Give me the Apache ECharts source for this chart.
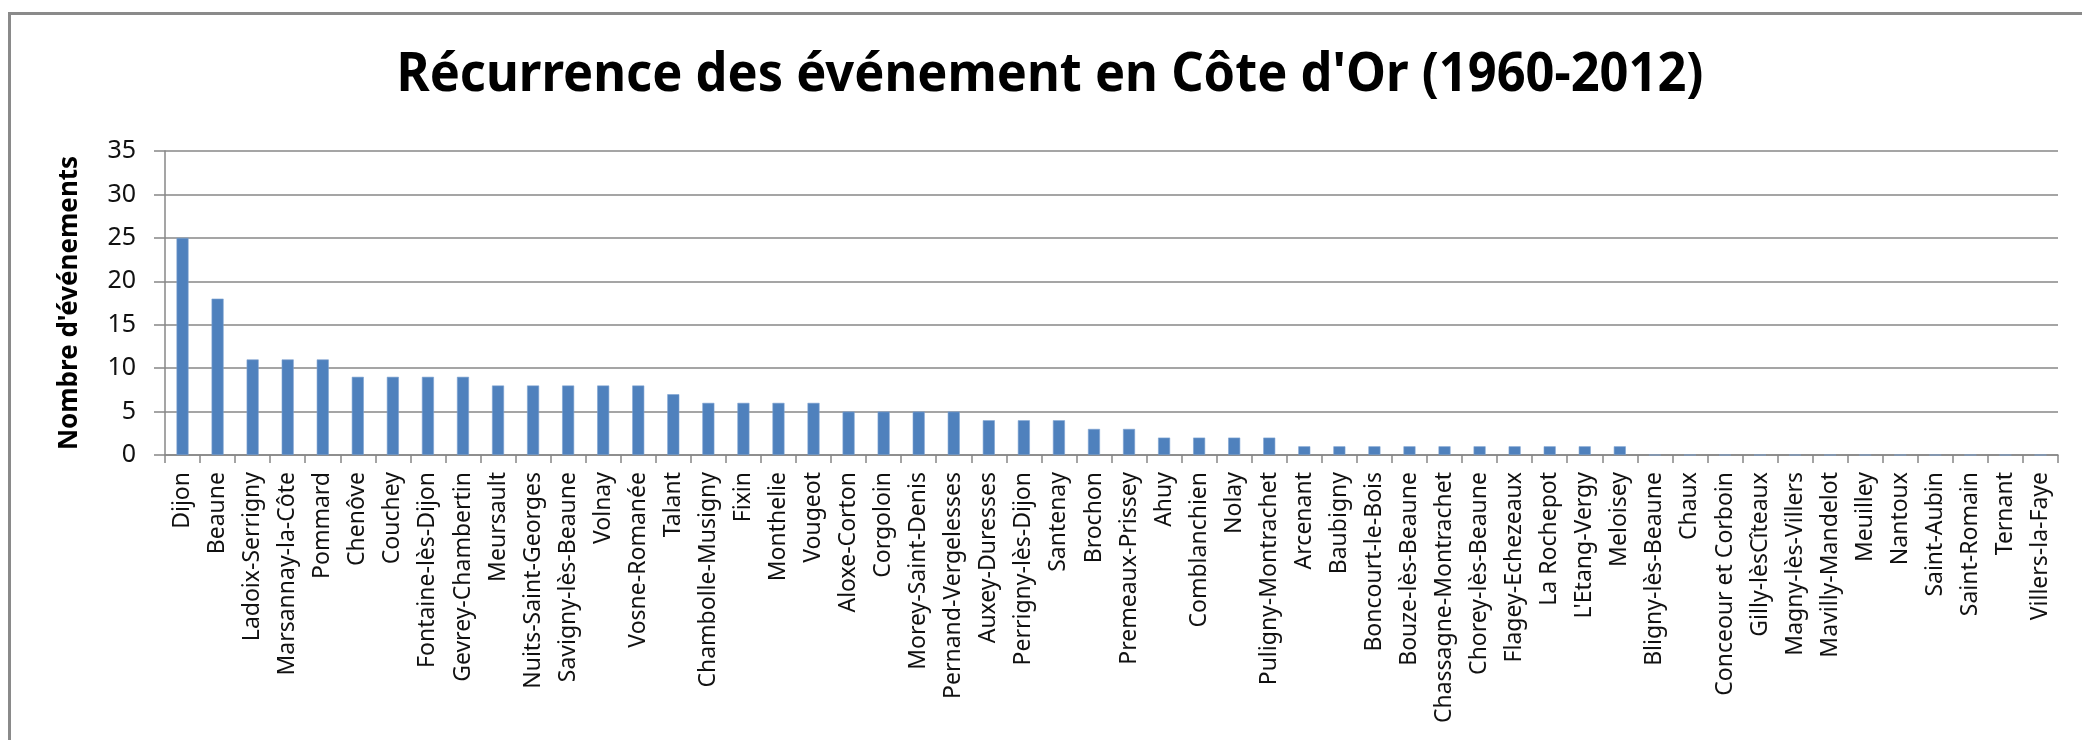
<!DOCTYPE html>
<html>
<head>
<meta charset="utf-8">
<script src="https://cdn.jsdelivr.net/npm/echarts@6/dist/echarts.min.js"></script>
<style>
html,body{margin:0;padding:0;background:#fff;}
#c{width:2082px;height:740px;}
</style>
</head>
<body>
<div id="c"></div>
<script>
const titleText = "Récurrence des événement en Côte d'Or (1960-2012)";
const yAxisName = "Nombre d'événements";

const communes = [
  "Dijon", "Beaune", "Ladoix-Serrigny", "Marsannay-la-Côte", "Pommard",
  "Chenôve", "Couchey", "Fontaine-lès-Dijon", "Gevrey-Chambertin", "Meursault",
  "Nuits-Saint-Georges", "Savigny-lès-Beaune", "Volnay", "Vosne-Romanée", "Talant",
  "Chambolle-Musigny", "Fixin", "Monthelie", "Vougeot", "Aloxe-Corton",
  "Corgoloin", "Morey-Saint-Denis", "Pernand-Vergelesses", "Auxey-Duresses", "Perrigny-lès-Dijon",
  "Santenay", "Brochon", "Premeaux-Prissey", "Ahuy", "Comblanchien",
  "Nolay", "Puligny-Montrachet", "Arcenant", "Baubigny", "Boncourt-le-Bois",
  "Bouze-lès-Beaune", "Chassagne-Montrachet", "Chorey-lès-Beaune", "Flagey-Echezeaux", "La Rochepot",
  "L'Etang-Vergy", "Meloisey", "Bligny-lès-Beaune", "Chaux", "Conceour et Corboin",
  "Gilly-lèsCîteaux", "Magny-lès-Villers", "Mavilly-Mandelot", "Meuilley", "Nantoux",
  "Saint-Aubin", "Saint-Romain", "Ternant", "Villers-la-Faye"
];

const events = [
  25, 18, 11, 11, 11,
  9, 9, 9, 9, 8,
  8, 8, 8, 8, 7,
  6, 6, 6, 6, 5,
  5, 5, 5, 4, 4,
  4, 3, 3, 2, 2,
  2, 2, 1, 1, 1,
  1, 1, 1, 1, 1,
  1, 1, 0, 0, 0,
  0, 0, 0, 0, 0,
  0, 0, 0, 0
];

const yMin = 0, yMax = 35, yStep = 5;

// layout
const W = 2082, H = 740;
const plotLeft = 165, plotRight = 2058, plotTop = 151, plotBottom = 455;
const titleFont = 'bold 53px "Noto Sans"';
const titleTargetWidth = 1307;
const titleCenterX = 1050, titleCenterY = 76;

const cv = document.createElement('canvas').getContext('2d');
cv.font = titleFont;
const titleScale = titleTargetWidth / cv.measureText(titleText).width;

const chart = echarts.init(document.getElementById('c'), null, {renderer: 'canvas', width: W, height: H});

const gridColor = '#878787';

chart.setOption({
  backgroundColor: '#ffffff',
  animation: false,
  grid: {
    left: plotLeft,
    right: W - plotRight,
    top: plotTop,
    bottom: H - plotBottom,
    containLabel: false
  },
  xAxis: {
    type: 'category',
    data: communes,
    boundaryGap: true,
    axisLine: {show: true, lineStyle: {color: gridColor, width: 1.5}},
    axisTick: {show: true, alignWithLabel: false, interval: 0, length: 8, lineStyle: {color: gridColor, width: 1.5}},
    axisLabel: {
      interval: 0,
      rotate: 90,
      margin: 17,
      color: '#111',
      fontFamily: 'Noto Sans',
      fontSize: 23
    },
    splitLine: {show: false}
  },
  yAxis: {
    type: 'value',
    min: yMin,
    max: yMax,
    interval: yStep,
    name: yAxisName,
    nameLocation: 'middle',
    nameRotate: 90,
    nameGap: 82,
    nameTextStyle: {
      color: '#000',
      fontFamily: 'Noto Sans',
      fontWeight: 'bold',
      fontSize: 26
    },
    axisLine: {show: true, lineStyle: {color: gridColor, width: 1.5}},
    axisTick: {show: true, length: 11, lineStyle: {color: gridColor, width: 1.5}},
    axisLabel: {
      margin: 29,
      color: '#111',
      fontFamily: 'Noto Sans',
      fontSize: 25
    },
    splitLine: {show: true, lineStyle: {color: gridColor, width: 1.5}}
  },
  series: [{
    type: 'bar',
    data: events,
    barWidth: 12,
    itemStyle: {color: '#4f81bd', borderColor: '#7ea3d1', borderWidth: 0.6}
  }],
  graphic: [
    {
      type: 'rect',
      left: 7, top: 11,
      shape: {x: 0, y: 0, width: W + 20, height: H + 20},
      style: {fill: 'none', stroke: '#8a8a8a', lineWidth: 3},
      silent: true, z: 0
    },
    {
      type: 'text',
      x: titleCenterX, y: titleCenterY,
      scaleX: titleScale,
      style: {
        text: titleText,
        font: titleFont,
        fill: '#000',
        align: 'center',
        verticalAlign: 'middle'
      },
      silent: true
    }
  ]
});
</script>
</body>
</html>
